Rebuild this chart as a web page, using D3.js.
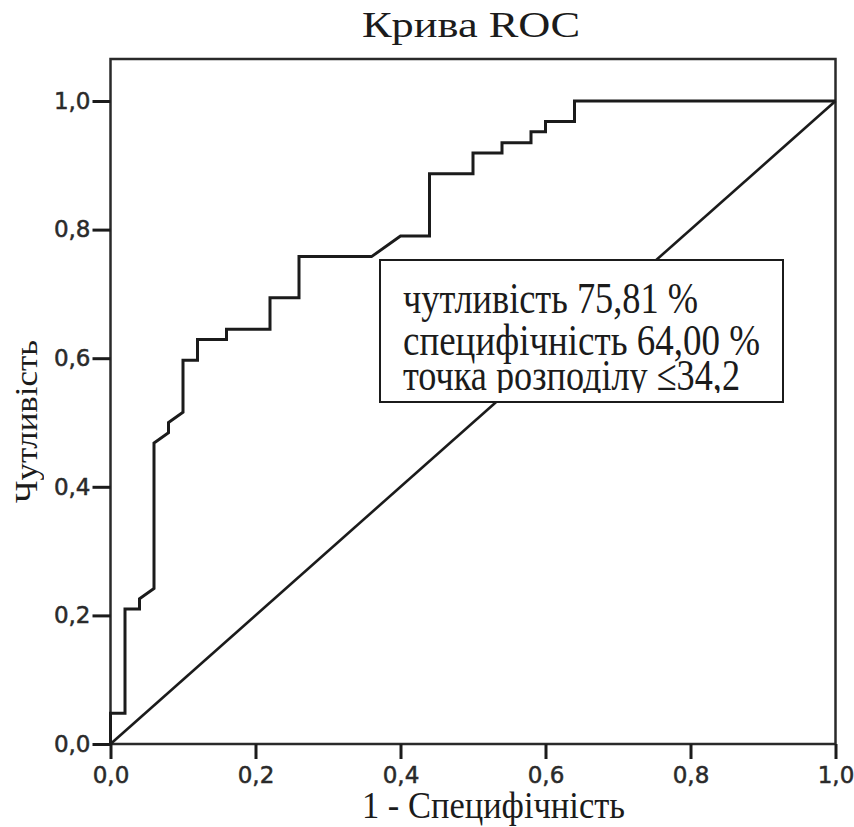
<!DOCTYPE html>
<html>
<head>
<meta charset="utf-8">
<script src="https://cdn.jsdelivr.net/npm/d3@7"></script>
<style>
  html, body { margin: 0; padding: 0; background: #fff; }
  svg { display: block; }
  .tick text { font-family: 'DejaVu Sans', 'Liberation Sans', sans-serif; font-size: 23px; }
</style>
</head>
<body>
<script>
// ---- data ----
const chartTitle = "Крива ROC";
const xTitle = "1 - Специфічність";
const yTitle = "Чутливість";
const tickValues = [0, 0.2, 0.4, 0.6, 0.8, 1.0];
// ROC curve (1 - specificity, sensitivity)
const fpr = [0, 0, 0.02, 0.02, 0.04, 0.04, 0.06, 0.06, 0.08, 0.08, 0.10, 0.10, 0.12, 0.12, 0.16, 0.16, 0.22, 0.22, 0.26, 0.26, 0.36, 0.40, 0.44, 0.44, 0.50, 0.50, 0.54, 0.54, 0.58, 0.58, 0.60, 0.60, 0.64, 0.64, 1.0];
const tpr = [0, 0.048, 0.048, 0.210, 0.210, 0.226, 0.242, 0.468, 0.484, 0.500, 0.516, 0.597, 0.597, 0.629, 0.629, 0.645, 0.645, 0.694, 0.694, 0.758, 0.758, 0.790, 0.790, 0.887, 0.887, 0.919, 0.919, 0.935, 0.935, 0.952, 0.952, 0.968, 0.968, 1.0, 1.0];
const refX = [0, 1];
const refY = [0, 1];
const boxLines = ["чутливість 75,81 %", "специфічність 64,00 %", "точка розподілу ≤34,2"];

// ---- layout ----
const W = 854, H = 827;
const L = 110.5, R = 835.5, B = 744, T1 = 101, FT = 59;
const ink = "#1b1b1b";

const svg = d3.select("body").append("svg").attr("width", W).attr("height", H);

const x = d3.scaleLinear().domain([0, 1]).range([L, R]);
const y = d3.scaleLinear().domain([0, 1]).range([B, T1]);
const fmt = d => d3.format(".1f")(d).replace(".", ",");

function fitText(sel, width) {
  sel.attr("textLength", width).attr("lengthAdjust", "spacingAndGlyphs");
}

// title
svg.append("text").attr("x", 362).attr("y", 37)
  .attr("font-family", "Liberation Serif, Times New Roman, serif")
  .attr("font-size", 36).attr("fill", ink).text(chartTitle)
  .call(fitText, 218);

// frame
svg.append("rect").attr("x", L).attr("y", FT).attr("width", R - L).attr("height", B - FT)
  .attr("fill", "none").attr("stroke", "#2a2a2a").attr("stroke-width", 2.5);

// axes
const ax = svg.append("g").attr("transform", `translate(0,${B})`)
  .call(d3.axisBottom(x).tickValues(tickValues).tickFormat(fmt).tickSize(15).tickSizeOuter(0).tickPadding(8));
const ay = svg.append("g").attr("transform", `translate(${L},0)`)
  .call(d3.axisLeft(y).tickValues(tickValues).tickFormat(fmt).tickSize(18).tickSizeOuter(0).tickPadding(2));
[ax, ay].forEach(g => {
  g.attr("font-size", 23).attr("font-family", "DejaVu Sans, sans-serif");
  g.select(".domain").remove();
  g.selectAll(".tick line").attr("stroke", ink).attr("stroke-width", 3);
  g.selectAll(".tick text").attr("fill", "#2a2a2a")
    .attr("stroke", "#2a2a2a").attr("stroke-width", 0.5);
});

// reference diagonal
svg.append("path")
  .datum(refX.map((v, i) => [v, refY[i]]))
  .attr("d", d3.line().x(d => x(d[0])).y(d => y(d[1])))
  .attr("fill", "none").attr("stroke", ink).attr("stroke-width", 2.6);

// ROC curve
svg.append("path")
  .datum(fpr.map((v, i) => [v, tpr[i]]))
  .attr("d", d3.line().x(d => x(d[0])).y(d => y(d[1])))
  .attr("fill", "none").attr("stroke", ink).attr("stroke-width", 3)
  .attr("stroke-linejoin", "miter");

// annotation box
const bx = 380, by = 260, bw = 403, bh = 142;
svg.append("rect").attr("x", bx).attr("y", by).attr("width", bw).attr("height", bh)
  .attr("fill", "#fff").attr("stroke", ink).attr("stroke-width", 2);
svg.append("clipPath").attr("id", "boxclip").append("rect")
  .attr("x", bx).attr("y", by).attr("width", bw).attr("height", 393 - by);
const boxWidths = [295, 357, 337];
const boxBase = [313, 355, 390];
const tg = svg.append("g").attr("clip-path", "url(#boxclip)");
boxLines.forEach((s, i) => {
  tg.append("text").attr("x", 403).attr("y", boxBase[i])
    .attr("font-family", "Liberation Serif, Times New Roman, serif")
    .attr("font-size", 44).attr("fill", ink).text(s)
    .call(fitText, boxWidths[i]);
});

// axis titles
svg.append("text").attr("x", 362).attr("y", 818)
  .attr("font-family", "Liberation Serif, Times New Roman, serif")
  .attr("font-size", 37).attr("fill", ink).text(xTitle)
  .call(fitText, 263);
svg.append("text")
  .attr("transform", "translate(37,503) rotate(-90)")
  .attr("font-family", "Liberation Serif, Times New Roman, serif")
  .attr("font-size", 32).attr("fill", ink).style("opacity", 0.999).text(yTitle)
  .call(fitText, 163);
</script>
</body>
</html>
